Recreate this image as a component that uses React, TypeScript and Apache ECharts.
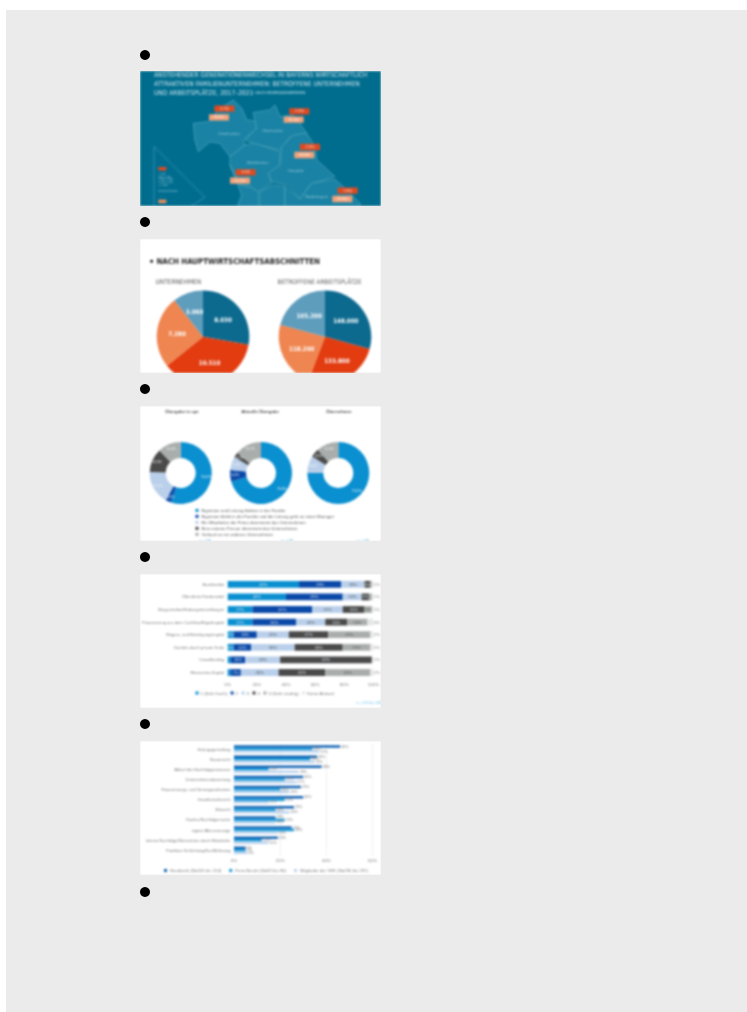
import React, { useEffect, useRef } from "react";
import * as echarts from "echarts";

const FONT = "Liberation Sans, Arial, sans-serif";
const NARROW = "Liberation Sans Narrow, DejaVu Sans Condensed, Liberation Sans, sans-serif";

// bullets
const bulletY = [55, 222, 389, 557, 724, 892];

// chart 1: map of Bavaria
const mapTitle = [
  "ANSTEHENDER GENERATIONENWECHSEL IN BAYERNS WIRTSCHAFTLICH",
  "ATTRAKTIVEN FAMILIENUNTERNEHMEN: BETROFFENE UNTERNEHMEN",
  "UND ARBEITSPLÄTZE, 2017–2021",
];
const mapSubtitle = "• NACH REGIERUNGSBEZIRKEN";
const regionNames = ["Unterfranken", "Oberfranken", "Oberpfalz", "Mittelfranken", "Niederbayern"];
const regionLabelPos = [[297, 283], [428, 272], [497, 393], [383, 370], [560, 472]];
const regionOutlines: number[][][] = [
  [[190,250],[235,245],[270,205],[310,180],[335,205],[350,240],[385,245],[375,270],[340,300],[345,315],[300,350],[270,310],[240,305],[205,335],[195,300]],
  [[370,218],[420,210],[435,195],[450,230],[490,225],[520,265],[530,280],[480,290],[450,330],[410,320],[375,312],[345,300],[380,265]],
  [[300,350],[345,315],[375,310],[420,325],[450,335],[450,380],[415,400],[425,430],[385,455],[360,440],[330,435],[300,375]],
  [[455,320],[490,285],[530,280],[555,320],[560,360],[615,410],[545,430],[510,475],[470,435],[425,425],[415,400],[450,375]],
  [[300,375],[330,435],[360,440],[385,455],[385,520],[315,520],[335,465]],
  [[390,455],[430,435],[465,440],[465,520],[390,520]],
  [[465,440],[510,478],[545,430],[615,418],[640,440],[690,490],[690,520],[465,520]],
];
const firmBadges = ["2.730", "2.590", "2.350", "3.640", "1.800"];
const jobBadges = ["38.800", "39.300", "38.800", "50.700", "39.800"];
const firmBadgePos = [[283, 206], [508, 214], [540, 321], [347, 397], [653, 452]];
const jobBadgePos = [[267, 232], [491, 239], [523, 345], [330, 422], [637, 477]];

// chart 2: pies
const pieTitle = "NACH HAUPTWIRTSCHAFTSABSCHNITTEN";
const pieHeads = ["UNTERNEHMEN", "BETROFFENE ARBEITSPLÄTZE"];
const pieFirms = [8030, 10510, 7280, 3060];
const pieJobs = [148000, 133800, 118200, 105200];
const pieColors = ["#0d6a8f", "#e23c10", "#ef8550", "#5f9dbd"];

// chart 3: donuts
const donutTitles = ["Übergabe in spe", "Aktuelle Übergabe", "Übernehmer"];
const donutNames = [
  "Eigentum und Leitung bleiben in der Familie",
  "Eigentum bleibt in der Familie und die Leitung geht an einen Manager",
  "Ein Mitarbeiter der Firma übernimmt das Unternehmen",
  "Eine externe Person übernimmt das Unternehmen",
  "Verkauf an ein anderes Unternehmen",
];
const donutA = [55.0, 3.0, 17.5, 12.5, 12.0];
const donutB = [70.6, 6.0, 7.0, 2.7, 13.7];
const donutC = [75.0, 0, 9.0, 4.5, 11.5];
const donutColors = ["#0a8fd0", "#0b49a8", "#b9cfea", "#4a4a4a", "#a9aeac"];

// chart 4: stacked bars
const stackCats = [
  "Bankkredite",
  "Öffentliche Fördermittel",
  "Bürgschaften/Haftungsfreistellungen",
  "Finanzierung aus dem Cashflow/Eigenkapital",
  "Wagnis- und Beteiligungskapital",
  "Darlehn durch private Dritte",
  "Crowdfunding",
  "Mezzanine-Kapital",
];
const stackNames = ["1 (Sehr hoch)", "2", "3", "4", "5 (Sehr niedrig)", "Keine Antwort"];
const stack1 = [49, 40, 17, 17, 4, 4, 2, 2];
const stack2 = [29, 39, 41, 30, 16, 12, 10, 7];
const stack3 = [16, 13, 21, 20, 22, 30, 24, 26];
const stack4 = [4, 5, 15, 15, 27, 33, 63, 32];
const stack5 = [1, 2, 5, 14, 29, 19, 0, 31];
const stack6 = [1, 1, 1, 4, 2, 2, 1, 2];
const stackColors = ["#0a8fd0", "#0b49a8", "#b9cfea", "#4a4a4a", "#a9aeac", "#e4e6e6"];
const stackNote = "n = 100 bis 108";

// chart 5: grouped bars
const groupCats = [
  "Vertragsgestaltung",
  "Steuerrecht",
  "Ablauf des Nachfolgeprozesses",
  "Unternehmensbewertung",
  "Finanzierungs- und Vermögensthemen",
  "Gesellschaftsrecht",
  "Erbrecht",
  "Käufer-/Nachfolgersuche",
  "eigene Altersvorsorge",
  "Interne Nachfolge/Übernahme durch Mitarbeiter",
  "Familiäre Schlichtung/Konfliktlösung",
];
const groupNames = ["Handwerk (N=205 bis 214)", "Freie Berufe (N=92 bis 96)", "Mitglieder der VHK (N=290 bis 297)"];
const groupA = [46, 36, 38, 30, 29, 30, 26, 18, 25, 19, 5];
const groupB = [34, 33, 15, 22, 20, 22, 18, 22, 26, 12, 5];
const groupC = [37, 35, 28, 27, 24, 15, 24, 18, 19, 15, 6];
const groupColors = ["#1464b4", "#1a9ad8", "#bcd3ee"];

const z = (p: number[]) => [p[0] / 3 - 10, p[1] / 3 - 31];

function badge(text: string, pos: number[], fill: string, color: string) {
  const [x, y] = z(pos);
  return [
    { type: "rect", shape: { x: x - 10, y: y - 3.2, width: 20, height: 6.4, r: 0.5 }, style: { fill } },
    { type: "text", x, y, style: { text, fill: color, fontSize: 3.6, fontFamily: FONT, align: "center", verticalAlign: "middle" } },
  ];
}

const mapOption = () => {
  const tx = (text: string, x: number, y: number, fontSize: number, fill: string) => ({
    type: "text", x, y, style: { text, fill, fontSize, fontFamily: NARROW, verticalAlign: "middle" },
  });
  return {
    animation: false,
    backgroundColor: "#006d8f",
    graphic: [
      ...regionOutlines.map((o) => ({
        type: "polygon",
        shape: { points: o.map(z) },
        style: { fill: "#1a82a4", stroke: "#4ba3bd", lineWidth: 0.8 },
      })),
      { type: "polyline", shape: { points: [[72, 520], [72, 320], [225, 472], [150, 520]].map(z) }, style: { fill: "none", stroke: "#3f97b3", lineWidth: 0.8 } },
      { type: "rect", shape: { x: z([85, 0])[0], y: z([0, 381])[1], width: 8, height: 3.5 }, style: { fill: "#df4a20" } },
      { type: "rect", shape: { x: z([85, 0])[0], y: z([0, 479])[1], width: 8, height: 3.5 }, style: { fill: "#ee8e5c" } },
      ...["< 500", "500–1.000", "1.000–2.000", "2.000–3.000", "> 3.000"].map((t, i) => tx(t, z([85, 0])[0], z([0, 404 + i * 8])[1], 2.6, "#8fc4d6")),
      tx("Unternehmen", z([85, 0])[0], z([0, 452])[1], 3.2, "#8fc4d6"),
      ...regionNames.map((t, i) => ({
        type: "text", x: z(regionLabelPos[i])[0], y: z(regionLabelPos[i])[1],
        style: { text: t, fill: "#8fc4d6", fontSize: 3.8, fontFamily: FONT, align: "center", verticalAlign: "middle" },
      })),
      ...firmBadges.flatMap((t, i) => badge(t, firmBadgePos[i], "#df4a20", "#f9d5c4")),
      ...jobBadges.flatMap((t, i) => badge(t, jobBadgePos[i], "#f2a27a", "#fff2e8")),
      ...mapTitle.map((t, i) => tx(t, 14, 3.5 + i * 9, 6.6, "#cfe6ee")),
      tx(mapSubtitle, 113, 21.5, 3.7, "#cfe6ee"),
    ],
  };
};

const pieOption = () => {
  const ser = (vals: number[], cx: number) => ({
    type: "pie",
    center: [cx, 97.7],
    radius: [0, 46.3],
    startAngle: 90,
    silent: true,
    data: vals.map((v, i) => ({
      value: v,
      name: String(i),
      itemStyle: { color: pieColors[i] },
      label: { formatter: v.toLocaleString("de-DE") },
    })),
    label: { show: true, position: "inside", color: "#fff", fontSize: 6.2, fontFamily: NARROW, fontWeight: "bold" },
    labelLine: { show: false },
  });
  return {
    animation: false,
    backgroundColor: "#fff",
    graphic: [
      { type: "circle", shape: { cx: 11.6, cy: 22.3, r: 1.5 }, style: { fill: "#111" } },
      { type: "text", x: 16.5, y: 22.3, style: { text: pieTitle, fill: "#222", fontSize: 7.8, fontWeight: "bold", fontFamily: NARROW, verticalAlign: "middle" } },
      { type: "text", x: 15.5, y: 42.8, style: { text: pieHeads[0], fill: "#555", fontSize: 6.5, fontFamily: NARROW, verticalAlign: "middle" } },
      { type: "text", x: 137.5, y: 42.8, style: { text: pieHeads[1], fill: "#555", fontSize: 6.3, fontFamily: NARROW, verticalAlign: "middle" } },
    ],
    series: [ser(pieFirms, 63), ser(pieJobs, 185)],
  };
};

const donutOption = () => {
  const fmt = (v: number) => v.toFixed(1).replace(".", ",") + "%";
  const ser = (vals: number[], cx: number) => ({
    type: "pie",
    center: [cx, 67],
    radius: [15, 31],
    startAngle: 90,
    silent: true,
    data: vals.map((v, i) => ({ value: v, name: donutNames[i], itemStyle: { color: donutColors[i] }, label: { show: v > 0, formatter: fmt(v) } })),
    label: { show: true, position: "inside", color: "#f4f8fb", fontSize: 3.4, fontFamily: FONT },
    labelLine: { show: false },
  });
  return {
    animation: false,
    backgroundColor: "#fff",
    legend: {
      left: 55.5, top: 102, orient: "vertical", itemWidth: 3, itemHeight: 3, itemGap: 1.2,
      icon: "rect", padding: 0, selectedMode: false, data: donutNames,
      textStyle: { fontSize: 4.3, color: "#555", fontFamily: FONT, padding: [0, 0, 0, -2], lineHeight: 4.8, height: 4.8 },
    },
    graphic: [
      ...donutTitles.map((t, i) => ({
        type: "text", x: [42, 120, 199][i], y: 5.3,
        style: { text: t, fill: "#444", fontSize: 4.3, fontFamily: FONT, fontWeight: "bold", align: "center", verticalAlign: "middle" },
      })),
      ...[65, 147, 223].map((x) => ({
        type: "text", x, y: 134.5,
        style: { text: "n = 148", fill: "#4db0e4", fontSize: 3.4, fontFamily: FONT, align: "center", verticalAlign: "middle" },
      })),
    ],
    series: [ser(donutA, 40.7), ser(donutB, 121), ser(donutC, 198.3)],
  };
};

const stackOption = () => {
  const rows = [stack1, stack2, stack3, stack4, stack5, stack6];
  return {
    animation: false,
    backgroundColor: "#fff",
    grid: { left: 87.7, width: 145.6, top: 4, height: 100.8, outerBoundsMode: "none" },
    xAxis: {
      type: "value", min: 0, max: 100, interval: 20,
      axisLabel: { formatter: "{value}%", fontSize: 4.4, color: "#777", fontFamily: FONT, margin: 3.5 },
      axisLine: { show: false }, axisTick: { show: false }, splitLine: { show: false },
    },
    yAxis: {
      type: "category", inverse: true, data: stackCats,
      axisLabel: { fontSize: 4.1, color: "#777", fontFamily: FONT, margin: 3.5, interval: 0 },
      axisLine: { show: false }, axisTick: { show: false },
    },
    legend: {
      left: 55.5, top: 117, itemWidth: 3, itemHeight: 3, itemGap: 3.5, padding: 0, icon: "rect", selectedMode: false,
      data: stackNames, textStyle: { fontSize: 4.4, color: "#777", fontFamily: FONT, padding: [0, 0, 0, -3] },
    },
    graphic: [
      { type: "text", x: 241, y: 128.7, style: { text: stackNote, fill: "#6fbfe8", fontSize: 3.6, fontFamily: FONT, align: "right", verticalAlign: "middle" } },
    ],
    series: rows.map((vals, i) => ({
      type: "bar", stack: "a", name: stackNames[i], barWidth: 6.8, data: vals, silent: true,
      itemStyle: { color: stackColors[i] },
      label: {
        show: true,
        position: i === 5 ? "right" : "inside",
        distance: 0.5,
        formatter: (p: any) => (i === 5 || p.value >= 4 ? p.value + "%" : ""),
        fontSize: 4, fontFamily: FONT,
        color: i === 5 ? "#777" : i === 2 || i === 4 ? "#555" : "#dfeaf5",
      },
    })),
  };
};

const groupOption = () => {
  const rows = [groupA, groupB, groupC];
  return {
    animation: false,
    backgroundColor: "#fff",
    grid: { left: 94, width: 138.5, top: 3, height: 111.4, outerBoundsMode: "none" },
    xAxis: {
      type: "value", min: 0, max: 60, interval: 20,
      axisLabel: { formatter: "{value}%", fontSize: 4.4, color: "#777", fontFamily: FONT, margin: 3.5 },
      axisLine: { show: false }, axisTick: { show: false },
      splitLine: { lineStyle: { color: "#e4e4e4", width: 0.6 } },
    },
    yAxis: {
      type: "category", inverse: true, data: groupCats,
      axisLabel: { fontSize: 4, color: "#777", fontFamily: FONT, margin: 3.5, interval: 0 },
      axisLine: { show: false }, axisTick: { show: false },
    },
    legend: {
      left: 24, top: 127.5, itemWidth: 3, itemHeight: 3, itemGap: 8, padding: 0, icon: "rect", selectedMode: false,
      data: groupNames, textStyle: { fontSize: 4.3, color: "#777", fontFamily: FONT, padding: [0, 0, 0, -2] },
    },
    series: rows.map((vals, i) => ({
      type: "bar", name: groupNames[i], barWidth: 2.5, barGap: "0%", data: vals, silent: true,
      itemStyle: { color: groupColors[i] },
      label: { show: true, position: "right", distance: 1, formatter: "{c}%", fontSize: 3.6, color: "#777", fontFamily: FONT },
    })),
  };
};

const bgOption = () => ({
  animation: false,
  backgroundColor: "#fff",
  graphic: [
    { type: "rect", shape: { x: 6, y: 10, width: 741, height: 1002 }, style: { fill: "#ebebeb" } },
    ...bulletY.map((cy) => ({ type: "circle", shape: { cx: 145, cy, r: 5 }, style: { fill: "#000" } })),
  ],
});

function Chart({ option, style }: { option: () => any; style: React.CSSProperties }) {
  const ref = useRef<HTMLDivElement>(null);
  useEffect(() => {
    const c = echarts.init(ref.current!, undefined, { renderer: "svg" });
    c.setOption(option());
    return () => c.dispose();
  }, [option]);
  return <div ref={ref} style={style} />;
}

const thumbs = [
  { top: 71, height: 135, option: mapOption },
  { top: 239, height: 134, option: pieOption },
  { top: 406, height: 135, option: donutOption },
  { top: 574, height: 134, option: stackOption },
  { top: 741, height: 134, option: groupOption },
];

export default function App() {
  return (
    <div style={{ position: "absolute", left: 0, top: 0, width: 747, height: 1012, overflow: "hidden" }}>
      <Chart option={bgOption} style={{ position: "absolute", left: 0, top: 0, width: 747, height: 1012 }} />
      {thumbs.map((t) => (
        <div key={t.top} style={{ position: "absolute", left: 140, top: t.top, width: 241, height: t.height, overflow: "hidden" }}>
          <Chart option={t.option} style={{ width: 241, height: t.height, filter: "blur(0.85px)" }} />
        </div>
      ))}
    </div>
  );
}
